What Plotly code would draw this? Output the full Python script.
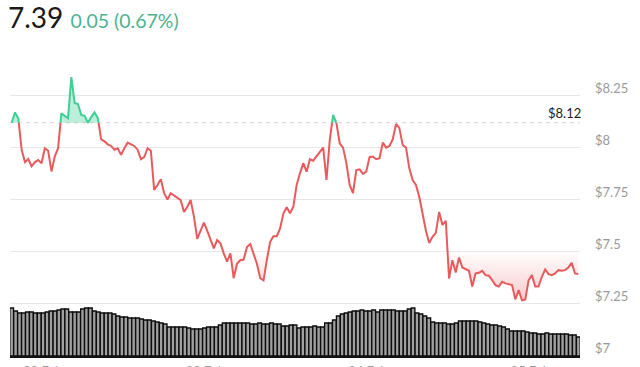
import numpy as np
import pandas as pd
import plotly.graph_objects as go

# ---------------- data ----------------
last_price = 7.39
change_abs = 0.05
change_pct = 0.67
ref_price = 8.12

prices = [
    8.12, 8.17, 8.14, 7.99, 7.93, 7.945, 7.91, 7.93, 7.94, 7.925, 7.997, 7.985, 7.885, 7.957,
    7.997, 8.166, 8.153, 8.142, 8.34, 8.215, 8.21, 8.158, 8.153, 8.12, 8.147, 8.17, 8.142,
    8.04, 8.03, 8.016, 8.008, 7.99, 7.997, 7.965, 7.997, 8.024, 8.016, 8.008, 7.99, 7.944,
    7.954, 7.997, 7.985, 7.796,
    7.82, 7.847, 7.78, 7.75, 7.78, 7.77, 7.76, 7.747, 7.69, 7.715, 7.747, 7.667, 7.56, 7.60,
    7.638, 7.60, 7.56, 7.514, 7.554, 7.538, 7.49, 7.45, 7.49, 7.37, 7.44, 7.457, 7.46, 7.52,
    7.535, 7.49, 7.44, 7.37, 7.36, 7.457, 7.546, 7.573, 7.573, 7.61, 7.683, 7.712, 7.683,
    7.715, 7.82, 7.876, 7.925, 7.884, 7.944, 7.937, 7.957,
    7.975, 8.0, 7.844, 8.037, 8.158, 8.118, 8.02, 8.0, 7.925, 7.82, 7.78, 7.892, 7.895,
    7.873, 7.884, 7.954, 7.957, 7.944, 7.949, 8.024, 8.0, 8.008, 8.04, 8.114, 8.094, 8.013,
    8.0, 7.9, 7.844, 7.82, 7.763, 7.683, 7.60, 7.54, 7.57, 7.589, 7.69, 7.627, 7.647, 7.369,
    7.457, 7.398, 7.47, 7.422, 7.412, 7.406, 7.33, 7.393, 7.396, 7.406, 7.385, 7.382, 7.361,
    7.337, 7.33, 7.353, 7.345, 7.341, 7.337, 7.268, 7.313, 7.264, 7.268, 7.36, 7.385, 7.33,
    7.33, 7.377, 7.412, 7.39, 7.385, 7.393, 7.409, 7.406, 7.409, 7.422, 7.444, 7.393, 7.39,
]

volumes = [
    48, 45, 43, 43, 44, 44, 43, 43, 43, 44, 45, 45, 46, 47, 47, 44, 44, 44, 47, 48,
    48, 45, 44, 43, 43, 43, 42, 40, 39, 39, 38, 38, 38, 37, 36, 36, 35, 34, 33, 32,
    29, 29, 29, 29, 29, 28, 27, 27, 27, 28, 29, 29, 29, 31, 33, 33, 33, 33, 33, 33,
    33, 32, 32, 33, 32, 32, 33, 32, 32, 30, 30, 31, 31, 28, 29, 29, 29, 30, 29, 29,
    33, 33, 36, 40, 42, 43, 44, 45, 45, 46, 45, 45, 46, 44, 46, 46, 46, 46, 45, 45,
    45, 47, 48, 43, 42, 40, 38, 34, 33, 33, 33, 32, 32, 33, 35, 35, 35, 35, 35, 34,
    33,
    32, 31, 31, 30, 29, 27, 25, 25, 25, 25, 24, 23, 23, 22, 22, 23, 22, 22, 22, 22,
    22, 21, 21, 19,
]

start_time = pd.Timestamp("2025-02-21 19:25")
end_time = pd.Timestamp("2025-02-25 07:05")
y_ticks = [7.0, 7.25, 7.5, 7.75, 8.0, 8.25]
x_ticks = pd.date_range("2025-02-22", "2025-02-25", freq="D")

# ---------------- derived ----------------
t_price = pd.date_range(start_time, end_time, periods=len(prices))
t_vol = pd.date_range(start_time, end_time, periods=len(volumes))

# insert crossing points with the reference level
ts = t_price.asi8.astype(float)
p = np.array(prices, dtype=float)
tx, py = [ts[0]], [p[0]]
for i in range(len(p) - 1):
    a, b = p[i] - ref_price, p[i + 1] - ref_price
    if a * b < 0:
        f = a / (a - b)
        tx.append(ts[i] + f * (ts[i + 1] - ts[i]))
        py.append(ref_price)
    tx.append(ts[i + 1])
    py.append(p[i + 1])
tx = pd.to_datetime(np.array(tx).astype("int64"))
py = np.array(py)

up_line = np.where(py >= ref_price, py, np.nan)
down_line = np.where(py <= ref_price, py, np.nan)
up_fill = np.maximum(py, ref_price)
down_fill = np.minimum(py, ref_price)
base = np.full(len(py), ref_price)

RED = "#e85a5c"
GREEN = "#3ecf95"

fig = go.Figure()

# volume bars
fig.add_trace(go.Bar(
    x=t_vol, y=volumes, yaxis="y2",
    marker=dict(color="#a0a0a0", line=dict(color="#0d0d0d", width=1.3)),
    hoverinfo="skip", showlegend=False,
))

# red fill (below reference) with vertical gradient
fig.add_trace(go.Scatter(x=tx, y=base, mode="lines", line=dict(width=0),
                         hoverinfo="skip", showlegend=False))
fig.add_trace(go.Scatter(
    x=tx, y=down_fill, mode="lines", line=dict(width=0), fill="tonexty",
    fillgradient=dict(type="vertical",
                      colorscale=[[0, "rgba(232,90,92,0.32)"], [1, "rgba(232,90,92,0.0)"]],
                      start=7.26, stop=7.5),
    hoverinfo="skip", showlegend=False))

# green fill (above reference)
fig.add_trace(go.Scatter(x=tx, y=base, mode="lines", line=dict(width=0),
                         hoverinfo="skip", showlegend=False))
fig.add_trace(go.Scatter(
    x=tx, y=up_fill, mode="lines", line=dict(width=0), fill="tonexty",
    fillcolor="rgba(62,207,149,0.35)", hoverinfo="skip", showlegend=False))

# price lines
fig.add_trace(go.Scatter(x=tx, y=down_line, mode="lines",
                         line=dict(color=RED, width=2), connectgaps=False,
                         showlegend=False))
fig.add_trace(go.Scatter(x=tx, y=up_line, mode="lines",
                         line=dict(color=GREEN, width=2), connectgaps=False,
                         showlegend=False))

# reference dashed line + label
fig.add_shape(type="line", xref="paper", x0=0, x1=1, yref="y", y0=ref_price, y1=ref_price,
              line=dict(color="#d4d4d4", width=1, dash="4px,4px"), layer="below")
fig.add_annotation(xref="paper", x=1, y=ref_price, yref="y", text=f"${ref_price:.2f}",
                   showarrow=False, xanchor="right", yanchor="bottom", xshift=3, yshift=0,
                   font=dict(family="Lato", size=13, color="#222222"))

pad = pd.Timedelta(minutes=15)
fig.update_layout(
    width=640, height=367,
    margin=dict(l=10, r=60, t=60, b=11, autoexpand=False),
    paper_bgcolor="white", plot_bgcolor="white",
    font=dict(family="Lato", size=13, color="#9a9a9a"),
    title=dict(
        text=(f"{last_price:.2f} <span style='font-size:19.5px;color:#4db38c'>"
              f"{change_abs:.2f} ({change_pct:.2f}%)</span>"),
        x=8 / 640, xref="container", xanchor="left",
        y=1 - 18 / 367, yref="container", yanchor="middle",
        font=dict(family="Lato", size=28, color="#1a1a1a"),
    ),
    bargap=0.05,
    showlegend=False,
    xaxis=dict(
        type="date", range=[start_time - pad, end_time + pad],
        tickvals=x_ticks, ticktext=[d.strftime("%d %b") for d in x_ticks],
        showgrid=False, zeroline=False, automargin=False,
        showline=True, linecolor="#111111", linewidth=2,
        ticks="", ticklabelstandoff=2, tickfont=dict(size=13, color="#9a9a9a"),
    ),
    yaxis=dict(
        range=[6.995, 8.4225], side="right", automargin=False,
        tickvals=y_ticks, ticktext=[f"${v:g}" for v in y_ticks],
        showgrid=True, gridcolor="#e8e8e8", gridwidth=1,
        zeroline=False, showline=False, ticks="",
        ticklabelstandoff=14, ticklabelshift=-7,
        tickfont=dict(size=13, color="#9a9a9a"),
    ),
    yaxis2=dict(range=[0, 296], overlaying="y", visible=False),
)

fig.write_html(
    "out.html",
    config={"displayModeBar": False},
    post_script="document.body.style.margin='0';document.body.style.overflow='hidden';",
)
